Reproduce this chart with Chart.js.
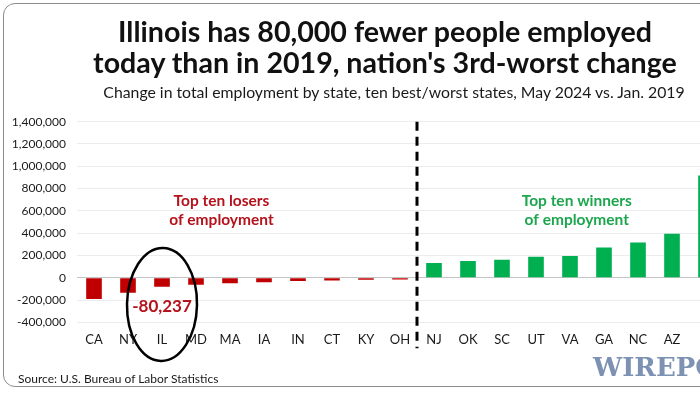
<!DOCTYPE html>
<html>
<head>
<meta charset="utf-8">
<script src="https://cdn.jsdelivr.net/npm/chart.js@4.4.1/dist/chart.umd.min.js"></script>
<style>
  html, body { margin:0; padding:0; width:700px; height:394px; overflow:hidden; background:#fff; }
  #frame { position:absolute; left:3px; top:3px; width:760px; height:384px; border:1.5px solid #8c8c8c; border-radius:12px; box-sizing:border-box; }
  #wrap { position:absolute; left:0; top:0; width:770px; height:394px; }
  .t { position:absolute; white-space:nowrap; font-family:Lato, "Open Sans", sans-serif; }
  #title1, #title2 { left:0; width:770px; text-align:center; font-size:28.6px; font-weight:700; color:#111; line-height:34px; }
  #title1 { top:14px; }
  #title2 { top:45px; }
  #sub { left:0; width:788px; text-align:center; font-size:15.8px; color:#1a1a1a; top:82px; }
  #src { left:18px; top:371px; font-size:12px; color:#1a1a1a; }
  #wm { left:593px; top:352px; font-family:"DejaVu Serif", "Liberation Serif", serif; font-weight:700; font-size:26px; color:#7d91b3; letter-spacing:0px; }
</style>
</head>
<body>
<div id="frame"></div>
<div id="wrap"><canvas id="c" width="770" height="394"></canvas></div>
<div class="t" id="title1">Illinois has 80,000 fewer people employed</div>
<div class="t" id="title2">today than in 2019, nation's 3rd-worst change</div>
<div class="t" id="sub">Change in total employment by state, ten best/worst states, May 2024 vs. Jan. 2019</div>
<div class="t" id="src">Source: U.S. Bureau of Labor Statistics</div>
<div class="t" id="wm">WIREPOINTS</div>
<script>
// ---- data ----
const states = ["CA","NY","IL","MD","MA","IA","IN","CT","KY","OH","NJ","OK","SC","UT","VA","GA","NC","AZ","FL"];
const change = [-190000,-135000,-80237,-62000,-50000,-40000,-30000,-24000,-18000,-15000,
                131000,149000,161000,188000,194000,272000,317000,395000,918000];
const yTicks = [-400000,-200000,0,200000,400000,600000,800000,1000000,1200000,1400000];
const loserLines = ["Top ten losers","of employment"];
const winnerLines = ["Top ten winners","of employment"];
const highlightState = "IL";

const RED = '#c00000', GREEN = '#00b050';
const fmt = v => v.toLocaleString('en-US');

const annot = {
  id:'annot',
  afterDatasetsDraw(chart){
    const {ctx, chartArea:a, scales:{x,y}} = chart;
    ctx.save();
    // dashed divider between losers and winners
    const xd = (x.getPixelForValue(9) + x.getPixelForValue(10)) / 2;
    ctx.strokeStyle = '#000'; ctx.lineWidth = 3; ctx.setLineDash([9,6]);
    ctx.beginPath(); ctx.moveTo(xd, a.top); ctx.lineTo(xd, a.bottom + 26); ctx.stroke();
    ctx.setLineDash([]);
    // group labels
    ctx.textAlign = 'center'; ctx.textBaseline = 'middle';
    ctx.font = 'bold 15.5px Lato, sans-serif';
    ctx.fillStyle = '#b5121b';
    const xl = x.getPixelForValue(3.75), xw = x.getPixelForValue(14.2);
    const yc = y.getPixelForValue(605000);
    ctx.fillText(loserLines[0], xl, yc - 9.5);
    ctx.fillText(loserLines[1], xl, yc + 9.5);
    ctx.fillStyle = '#1ea64f';
    ctx.fillText(winnerLines[0], xw, yc - 9.5);
    ctx.fillText(winnerLines[1], xw, yc + 9.5);
    // highlight label + ellipse
    const hi = states.indexOf(highlightState);
    const xh = x.getPixelForValue(hi);
    ctx.fillStyle = '#b5121b';
    ctx.font = 'bold 17px Lato, sans-serif';
    ctx.fillText(fmt(change[hi]), xh, y.getPixelForValue(-262000));
    ctx.strokeStyle = '#000'; ctx.lineWidth = 2.5;
    ctx.beginPath();
    ctx.ellipse(xh, y.getPixelForValue(-240000), 35, 56.5, 0.02, 0, Math.PI*2);
    ctx.stroke();
    ctx.restore();
  }
};

new Chart(document.getElementById('c'), {
  type:'bar',
  data:{
    labels: states,
    datasets:[{
      data: change,
      backgroundColor: change.map(v => v < 0 ? RED : GREEN),
      borderWidth:0,
      categoryPercentage:1.0,
      barPercentage:0.46
    }]
  },
  options:{
    responsive:false,
    animation:false,
    layout:{ padding:{ top:121.7, left:0, right:47, bottom:41.7 } },
    plugins:{ legend:{display:false}, tooltip:{enabled:false}, title:{display:false} },
    scales:{
      x:{
        grid:{ display:false, drawTicks:false },
        border:{ display:false },
        ticks:{ color:'#1a1a1a', font:{ family:'Lato', size:13 }, padding:10, maxRotation:0, autoSkip:false },
        afterFit(s){ s.height = 30; }
      },
      y:{
        min:-400000, max:1400000,
        afterBuildTicks(s){ s.ticks = yTicks.map(v => ({value:v})); },
        grid:{ drawTicks:false, color: c => c.tick && c.tick.value === 0 ? '#c4c4c4' : '#ececec', lineWidth:1 },
        border:{ display:false },
        ticks:{ color:'#1a1a1a', font:{ family:'Lato', size:12 }, padding:11, callback: v => fmt(v) },
        afterFit(s){ s.width = 77; }
      }
    }
  },
  plugins:[annot]
});
</script>
</body>
</html>
